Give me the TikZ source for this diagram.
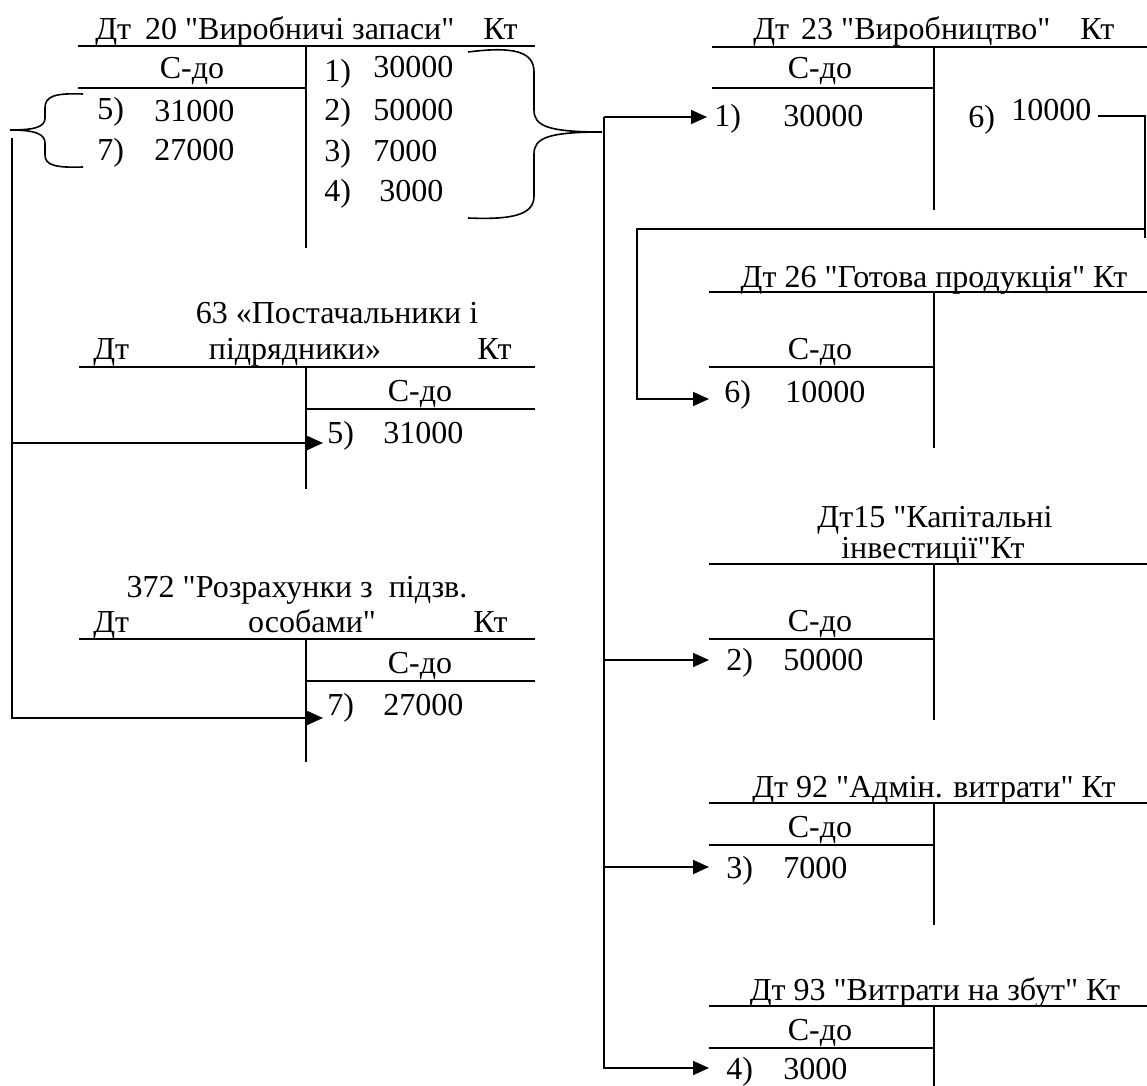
\documentclass[tikz,border=0pt]{standalone}
\usepackage{fontspec}
\newfontfamily\accfont{Liberation Serif}
\usetikzlibrary{arrows.meta}
\begin{document}
\begin{tikzpicture}[x=0.5pt,y=-0.5pt,
  txt/.style={inner sep=0pt,font=\accfont\fontsize{16}{18}\selectfont},
  tline/.style={line width=1pt},
  conn/.style={line width=0.9pt},
  arr/.style={conn,-{Triangle[length=8pt,width=7pt]}},
  bracepath/.style={line width=0.8pt}]
\useasboundingbox (0,0) rectangle (1147,1086);

% ---------- Account 20 ----------
\node[txt,anchor=base west] (t20) at (95,40) {Дт\hspace{7pt}20 "Виробничі запаси"\hspace{14.5pt}Кт};
\draw[tline] (78,46) -- (535,46);
\draw[tline] (306,46) -- (306,248);
\node[txt,anchor=base] (s20) at (192,79) {С-до};
\draw[tline] (78,88) -- (306,88);
\node[txt,anchor=base west] (d20a) at (97,120) {5)};
\node[txt,anchor=base west] (d20b) at (154,122) {31000};
\node[txt,anchor=base west] (d20c) at (97,161) {7)};
\node[txt,anchor=base west] (d20d) at (154,161) {27000};
\node[txt,anchor=base west] (c1n) at (324,82) {1)};
\node[txt,anchor=base west] (c1v) at (373,78) {30000};
\node[txt,anchor=base west] (c2n) at (324,121) {2)};
\node[txt,anchor=base west] (c2v) at (373,121) {50000};
\node[txt,anchor=base west] (c3n) at (324,162) {3)};
\node[txt,anchor=base west] (c3v) at (373,162) {7000};
\node[txt,anchor=base west] (c4n) at (324,202) {4)};
\node[txt,anchor=base west] (c4v) at (379,202) {3000};

% braces
\coordinate (rtip) at (602,132);
\draw[bracepath] (468,52) .. controls (515,46) and (534,52) .. (534,72) -- (534,110)
  .. controls (534,126) and (548,132) .. (rtip)
  .. controls (548,132) and (534,138) .. (534,154) -- (534,196)
  .. controls (534,214) and (515,220) .. (468,218);
\coordinate (ltip) at (10,130);
\draw[bracepath] (83,94) .. controls (55,93) and (45,96) .. (45,108) -- (45,118)
  .. controls (45,127) and (35,130) .. (ltip)
  .. controls (35,130) and (45,134) .. (45,143) -- (45,155)
  .. controls (45,165) and (55,168) .. (83,167);

% left connector
\coordinate (L0) at (12,138);
\coordinate (L1) at (12,443);
\coordinate (tip63) at (323,443);
\coordinate (tip372) at (323,718);
\draw[arr] (L0) |- (tip372);
\draw[arr] (L1) -- (tip63);

% ---------- Account 63 ----------
\node[txt,anchor=base] (t63a) at (337,323) {63 «Постачальники і};
\node[txt,anchor=base west] (t63dt) at (93,359) {Дт};
\node[txt,anchor=base] (t63b) at (295,359) {підрядники»};
\node[txt,anchor=base west] (t63kt) at (477,359) {Кт};
\draw[tline] (79,367) -- (535,367);
\draw[tline] (306,367) -- (306,489);
\node[txt,anchor=base] (s63) at (420,401) {С-до};
\draw[tline] (306,409) -- (535,409);
\node[txt,anchor=base west] (e63a) at (327,443) {5)};
\node[txt,anchor=base west] (e63b) at (383,443) {31000};

% ---------- Account 372 ----------
\node[txt,anchor=base] (t372a) at (297,597) {372 "Розрахунки з\ \ підзв.};
\node[txt,anchor=base west] (t372dt) at (93,632) {Дт};
\node[txt,anchor=base] (t372b) at (312,632) {особами"};
\node[txt,anchor=base west] (t372kt) at (473,632) {Кт};
\draw[tline] (79,639) -- (535,639);
\draw[tline] (306,639) -- (306,762);
\node[txt,anchor=base] (s372) at (420,673) {С-до};
\draw[tline] (306,681) -- (535,681);
\node[txt,anchor=base west] (e372a) at (327,715) {7)};
\node[txt,anchor=base west] (e372b) at (383,715) {27000};

% right connector
\coordinate (R0) at (604,117);
\coordinate (R2) at (604,660);
\coordinate (R3) at (604,867);
\coordinate (a1) at (707,117);
\coordinate (a2) at (709,660);
\coordinate (a3) at (709,867);
\coordinate (a4) at (709,1068);
\draw[arr] (R0) -- (a1);
\draw[arr] (R0) |- (a4);
\draw[arr] (R2) -- (a2);
\draw[arr] (R3) -- (a3);

% ---------- Account 23 ----------
\node[txt,anchor=base west] (t23) at (753,40) {Дт\hspace{6pt}23 "Виробництво"\hspace{15pt}Кт};
\draw[tline] (712,47) -- (1147,47);
\draw[tline] (934,47) -- (934,210);
\node[txt,anchor=base] (s23) at (820,79) {С-до};
\draw[tline] (712,88) -- (934,88);
\node[txt,anchor=base west] (e23a) at (714,127) {1)};
\node[txt,anchor=base west] (e23b) at (783,127) {30000};
\node[txt,anchor=base west] (e23c) at (968,128) {6)};
\node[txt,anchor=base west] (e23d) at (1011,121) {10000};
\coordinate (k0) at (1098,116);
\coordinate (k1) at (1145,116);
\coordinate (k2) at (1145,238);
\coordinate (k3) at (1145,229);
\coordinate (k4) at (637,229);
\coordinate (a6) at (709,399);
\draw[conn] (k0) -- (k1) -- (k2);
\draw[arr] (k3) -- (k4) |- (a6);

% ---------- Account 26 ----------
\node[txt,anchor=base] (t26) at (934,287) {Дт 26 "Готова продукція" Кт};
\draw[tline] (709,292) -- (1147,292);
\draw[tline] (934,292) -- (934,448);
\node[txt,anchor=base] (s26) at (820,359) {С-до};
\draw[tline] (709,367) -- (934,367);
\node[txt,anchor=base west] (e26a) at (724,402) {6)};
\node[txt,anchor=base west] (e26b) at (785,402) {10000};

% ---------- Account 15 ----------
\node[txt,anchor=base] (t15a) at (935,527) {Дт15 "Капітальні};
\node[txt,anchor=base] (t15b) at (933,558) {інвестиції"Кт};
\draw[tline] (709,564) -- (1147,564);
\draw[tline] (934,564) -- (934,720);
\node[txt,anchor=base] (s15) at (820,631) {С-до};
\draw[tline] (709,639) -- (934,639);
\node[txt,anchor=base west] (e15a) at (726,670) {2)};
\node[txt,anchor=base west] (e15b) at (783,670) {50000};

% ---------- Account 92 ----------
\node[txt,anchor=base] (t92) at (934,797) {Дт 92 "Адмін. витрати" Кт};
\draw[tline] (709,803) -- (1147,803);
\draw[tline] (934,803) -- (934,925);
\node[txt,anchor=base] (s92) at (820,837) {С-до};
\draw[tline] (709,845) -- (934,845);
\node[txt,anchor=base west] (e92a) at (726,878) {3)};
\node[txt,anchor=base west] (e92b) at (783,878) {7000};

% ---------- Account 93 ----------
\node[txt,anchor=base] (t93) at (935,1000) {Дт 93 "Витрати на збут" Кт};
\draw[tline] (709,1006) -- (1147,1006);
\draw[tline] (934,1006) -- (934,1086);
\node[txt,anchor=base] (s93) at (820,1040) {С-до};
\draw[tline] (709,1048) -- (934,1048);
\node[txt,anchor=base west] (e93a) at (726,1079) {4)};
\node[txt,anchor=base west] (e93b) at (783,1079) {3000};
\end{tikzpicture}
\end{document}
